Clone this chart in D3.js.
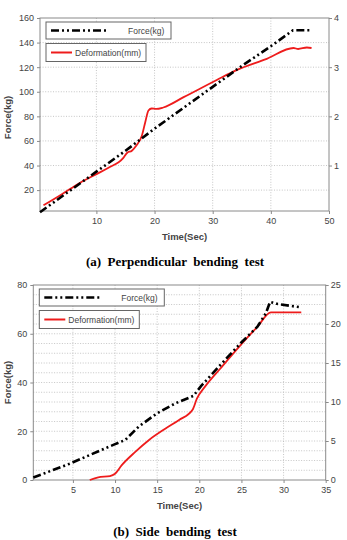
<!DOCTYPE html>
<html>
<head>
<meta charset="utf-8">
<script src="https://cdn.jsdelivr.net/npm/d3@7"></script>
<style>
  body { margin: 0; background: #fff; }
  svg text { font-family: "Liberation Sans", Arial, sans-serif; }
</style>
</head>
<body>
<svg id="chart" width="347" height="540"></svg>
<script>
// (a) perpendicular bending test
const forceTimeA = [0.3, 5, 10, 15, 20, 25, 30, 35, 40, 43.8, 46.7];
const forceA = [2, 18, 35, 52, 70, 87, 104, 121, 137, 150, 150];
const defTimeA = [0.9, 4, 7.2, 10.1, 12, 14.6, 15.3, 16.1, 16.9, 17.8, 18.4, 18.95, 19.5, 20.3, 21.5, 25, 30.7, 34.1, 39.3, 43.9, 44.7, 46.2, 47];
const deformA = [0.19, 0.41, 0.65, 0.83, 0.95, 1.15, 1.26, 1.3, 1.41, 1.6, 1.88, 2.12, 2.16, 2.15, 2.18, 2.39, 2.74, 2.94, 3.17, 3.39, 3.37, 3.4, 3.39];
const xTicksA = [10, 20, 30, 40, 50];
const yTicksA = [20, 40, 60, 80, 100, 120, 140, 160];
const rTicksA = [1, 2, 3, 4];

// (b) side bending test
const forceTimeB = [0.3, 4.7, 7.9, 9.8, 11.2, 12.8, 15, 17.2, 19.3, 20.2, 22.5, 24.9, 26.9, 27.9, 28.4, 29.3, 32.1];
const forceB = [1, 6.8, 11.6, 14.4, 16.4, 21.9, 27.4, 31.5, 34.5, 38.5, 47.2, 56.1, 62.9, 68.4, 73.1, 72.2, 70.8];
const defTimeB = [7, 8, 9.4, 10, 10.8, 12.4, 14, 16, 17.6, 19.2, 19.7, 20.7, 22.5, 24.9, 26.9, 28.5, 32.1];
const deformB = [0, 0.35, 0.5, 0.8, 1.9, 3.6, 5.1, 6.6, 7.7, 9.0, 10.4, 12.0, 14.3, 17.3, 19.65, 21.5, 21.5];
const xTicksB = [5, 10, 15, 20, 25, 30, 35];
const yTicksB = [0, 20, 40, 60, 80];
const rTicksB = [0, 5, 10, 15, 20, 25];
const minorStepB = 4;

const legendLabels = ["Force(kg)", "Deformation(mm)"];
const captions = ["(a)  Perpendicular  bending  test", "(b)  Side  bending  test"];

const svg = d3.select("#chart");
const frameColor = "#8a8a8a";
const textColor = "#444";

function drawPanel(opt) {
  const w = opt.right - opt.left;
  const h = opt.bottom - opt.top;
  const g = svg.append("g").attr("transform", `translate(${opt.left},${opt.top})`);

  const x = d3.scaleLinear().domain(opt.xDomain).range([0, w]);
  const y = d3.scaleLinear().domain(opt.yDomain).range([h, 0]);
  const yr = d3.scaleLinear().domain(opt.rDomain).range([h, 0]);

  // grid
  const grid = g.append("g")
    .attr("stroke", "#b8b8b8")
    .attr("stroke-width", 0.8)
    .attr("stroke-dasharray", "1,1.6");
  grid.selectAll("line.v")
    .data(opt.xTicks.filter(d => d < opt.xDomain[1]))
    .enter().append("line")
    .attr("x1", d => x(d)).attr("x2", d => x(d))
    .attr("y1", 0).attr("y2", h);
  grid.selectAll("line.h")
    .data(opt.hGrid.filter(d => d > opt.yDomain[0] && d < opt.yDomain[1]))
    .enter().append("line")
    .attr("x1", 0).attr("x2", w)
    .attr("y1", d => y(d)).attr("y2", d => y(d));

  // frame
  g.append("rect")
    .attr("width", w).attr("height", h)
    .attr("fill", "none")
    .attr("stroke", frameColor)
    .attr("stroke-width", 1);

  const styleAxis = sel => {
    sel.select(".domain").remove();
    sel.selectAll(".tick line").attr("stroke", frameColor);
    sel.selectAll(".tick text")
      .attr("fill", textColor)
      .style("font-size", "9px")
      .style("font-family", "'Liberation Sans', Arial, sans-serif");
  };
  const fmt = d3.format("d");

  g.append("g")
    .attr("transform", `translate(0,${h})`)
    .call(d3.axisBottom(x).tickValues(opt.xTicks).tickFormat(fmt).tickSize(3).tickPadding(4))
    .call(styleAxis);
  g.append("g")
    .call(d3.axisLeft(y).tickValues(opt.yTicks).tickFormat(fmt).tickSize(3).tickPadding(3))
    .call(styleAxis);
  g.append("g")
    .attr("transform", `translate(${w},0)`)
    .call(d3.axisRight(yr).tickValues(opt.rTicks).tickFormat(fmt).tickSize(3).tickPadding(2))
    .call(styleAxis);

  // series
  const forcePts = opt.forceTime.map((t, i) => [t, opt.force[i]]);
  const defPts = opt.defTime.map((t, i) => [t, opt.deform[i]]);

  g.append("path")
    .datum(defPts)
    .attr("fill", "none")
    .attr("stroke", "#ee1c1c")
    .attr("stroke-width", 1.8)
    .attr("d", d3.line().x(d => x(d[0])).y(d => yr(d[1])).curve(d3.curveMonotoneX));

  g.append("path")
    .datum(forcePts)
    .attr("fill", "none")
    .attr("stroke", "#000")
    .attr("stroke-width", 2.6)
    .attr("stroke-dasharray", "8,3,2,3,2,3")
    .attr("d", d3.line().x(d => x(d[0])).y(d => y(d[1])));

  // axis titles
  g.append("text")
    .attr("x", w / 2).attr("y", h + 29)
    .attr("text-anchor", "middle")
    .attr("fill", textColor)
    .attr("font-weight", "bold")
    .style("font-size", "9.5px")
    .text("Time(Sec)");
  g.append("text")
    .attr("transform", `translate(${-opt.left + 11},${h / 2 + opt.yLabelShift}) rotate(-90)`)
    .attr("text-anchor", "middle")
    .attr("fill", textColor)
    .attr("font-weight", "bold")
    .style("font-size", "9.5px")
    .text("Force(kg)");

  // legend
  const lg = g.append("g").attr("transform", "translate(6,4)");
  lg.append("rect").attr("width", 125).attr("height", 17)
    .attr("fill", "#fff").attr("stroke", "#666").attr("stroke-width", 1);
  lg.append("line").attr("x1", 5).attr("x2", 63).attr("y1", 8.5).attr("y2", 8.5)
    .attr("stroke", "#000").attr("stroke-width", 2.6).attr("stroke-dasharray", "8,3,2,3,2,3");
  lg.append("text").attr("x", 82).attr("y", 11.5)
    .attr("fill", textColor).style("font-size", "8.5px").text(legendLabels[0]);

  lg.append("rect").attr("y", 21.5).attr("width", 100).attr("height", 18)
    .attr("fill", "#fff").attr("stroke", "#666").attr("stroke-width", 1);
  lg.append("line").attr("x1", 5).attr("x2", 26).attr("y1", 30.5).attr("y2", 30.5)
    .attr("stroke", "#ee1c1c").attr("stroke-width", 2);
  lg.append("text").attr("x", 29).attr("y", 33.5)
    .attr("fill", textColor).style("font-size", "8.5px").text(legendLabels[1]);

  // caption
  svg.append("text")
    .attr("x", 175).attr("y", opt.captionY)
    .attr("text-anchor", "middle")
    .attr("fill", "#000")
    .attr("font-weight", "bold")
    .style("font-family", "'Liberation Serif', 'Times New Roman', serif")
    .style("font-size", "13px")
    .style("white-space", "pre")
    .text(opt.caption);
}

drawPanel({
  left: 40, right: 329, top: 18, bottom: 211,
  xDomain: [0.3, 50], yDomain: [3, 160], rDomain: [0.075, 4],
  xTicks: xTicksA, yTicks: yTicksA, rTicks: rTicksA,
  hGrid: yTicksA,
  forceTime: forceTimeA, force: forceA, defTime: defTimeA, deform: deformA,
  yLabelShift: 3,
  caption: captions[0], captionY: 266
});

drawPanel({
  left: 33.3, right: 325.7, top: 285, bottom: 480,
  xDomain: [0.3, 35], yDomain: [0, 80], rDomain: [0, 25],
  xTicks: xTicksB, yTicks: yTicksB, rTicks: rTicksB,
  hGrid: d3.range(0, 80, minorStepB),
  forceTime: forceTimeB, force: forceB, defTime: defTimeB, deform: deformB,
  yLabelShift: 0,
  caption: captions[1], captionY: 536
});
</script>
</body>
</html>
